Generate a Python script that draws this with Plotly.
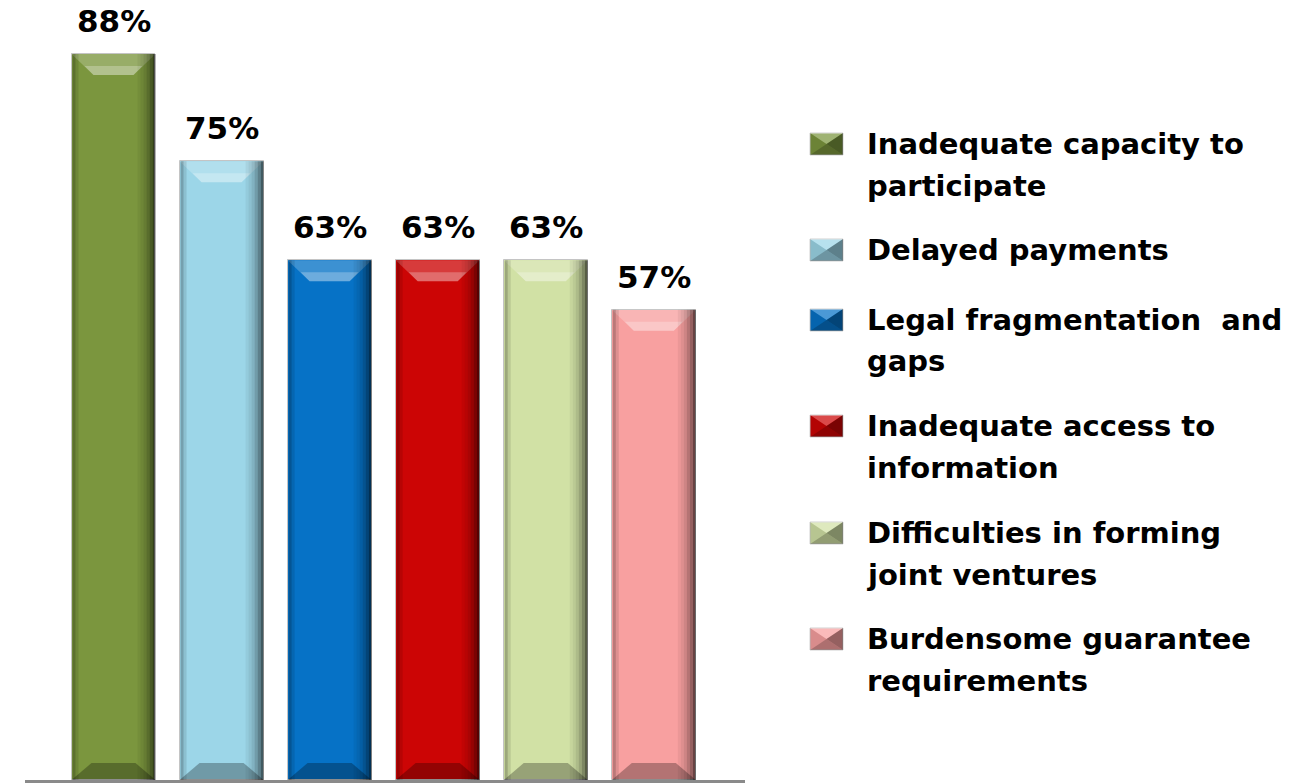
import plotly.graph_objects as go

# ---------------- data ----------------
categories = [
    "Inadequate capacity to participate",
    "Delayed payments",
    "Legal fragmentation and gaps",
    "Inadequate access to information",
    "Difficulties in forming joint ventures",
    "Burdensome guarantee requirements",
]
legend_lines = [
    ["Inadequate capacity to", "participate"],
    ["Delayed payments"],
    ["Legal fragmentation  and", "gaps"],
    ["Inadequate access to", "information"],
    ["Difficulties in forming", "joint ventures"],
    ["Burdensome guarantee", "requirements"],
]
values = [88, 75, 63, 63, 63, 57]
colors = ["#7b963e", "#9cd6e8", "#0672c6", "#cc0505", "#d1e1a5", "#f8a0a0"]

# ---------------- layout helpers ----------------
W, H = 1312, 784
FONT = "DejaVu Sans"
xs = list(range(len(categories)))


def px(x):
    return x / W


def py(y):
    return (H - y) / H


fig = go.Figure()
fig.add_trace(go.Bar(
    x=xs, y=values, width=0.777,
    marker=dict(color=colors, line=dict(color="#c4c4c4", width=1)),
    hovertext=categories, hoverinfo="text+y",
    showlegend=False,
))

shapes = []
annotations = []
HALF = 42  # bar half width in pixels (style)

for i, v in enumerate(values):
    base = dict(xref="x", yref="y", xsizemode="pixel", xanchor=i, layer="above")
    # top bevel
    shapes.append(dict(base, type="path", ysizemode="pixel", yanchor=v,
                       path=f"M{-HALF},0 L{HALF},0 L{HALF-22},-21 L{-HALF+22},-21 Z",
                       fillcolor="rgba(255,255,255,0.22)", line=dict(width=0)))
    shapes.append(dict(base, type="path", ysizemode="pixel", yanchor=v,
                       path=f"M{-HALF+13},-12 L{HALF-13},-12 L{HALF-22},-21 L{-HALF+22},-21 Z",
                       fillcolor="rgba(255,255,255,0.25)", line=dict(width=0)))
    # bottom bevel
    shapes.append(dict(base, type="path", ysizemode="pixel", yanchor=0,
                       path=f"M{-HALF},0 L{HALF},0 L{HALF-20},17 L{-HALF+20},17 Z",
                       fillcolor="rgba(0,0,0,0.28)", line=dict(width=0)))
    # right edge shading (full height)
    for k, op in enumerate([0.05, 0.1, 0.17, 0.27, 0.4, 0.58]):
        x0 = HALF - 18 + 3 * k
        shapes.append(dict(base, type="rect", x0=x0, x1=x0 + 3, y0=0, y1=v,
                           fillcolor=f"rgba(0,0,0,{op})", line=dict(width=0)))
    # left edge shading
    for k, op in enumerate([0.25, 0.1]):
        x0 = -HALF + 1 + 3 * k
        shapes.append(dict(base, type="rect", x0=x0, x1=x0 + 3, y0=0, y1=v,
                           fillcolor=f"rgba(0,0,0,{op})", line=dict(width=0)))
    # value label
    annotations.append(dict(
        x=i, y=v, xref="x", yref="y", text=f"{v}%", showarrow=False,
        yanchor="bottom", yshift=13,
        font=dict(family=FONT, size=31, color="#000000", weight="bold"),
    ))

# ---------------- custom legend ----------------
line_centers = [[144, 186], [250], [320, 361], [426, 468], [533, 575], [639, 681]]
for j, lines in enumerate(legend_lines):
    for t, yc in zip(lines, line_centers[j]):
        annotations.append(dict(
            x=px(865), y=py(yc), xref="paper", yref="paper", text=t,
            showarrow=False, xanchor="left", yanchor="middle",
            font=dict(family=FONT, size=29, color="#000000", weight="bold"),
        ))
    yc = line_centers[j][0]
    l, r, t_, b = 810, 843, yc - 11, yc + 11
    cx, cy = (l + r) / 2, (t_ + b) / 2
    pdict = dict(xref="paper", yref="paper", layer="above", line=dict(width=0))
    shapes.append(dict(pdict, type="rect", x0=px(l), x1=px(r), y0=py(b), y1=py(t_),
                       fillcolor=colors[j], line=dict(color="#d0d0d0", width=1)))
    tris = [
        ([(l, t_), (r, t_), (cx, cy)], "rgba(255,255,255,0.28)"),
        ([(l, b), (r, b), (cx, cy)], "rgba(0,0,0,0.3)"),
        ([(r, t_), (r, b), (cx, cy)], "rgba(0,0,0,0.4)"),
        ([(l, t_), (l, b), (cx, cy)], "rgba(0,0,0,0.12)"),
    ]
    for pts, fc in tris:
        path = "M" + " L".join(f"{px(a):.5f},{py(c):.5f}" for a, c in pts) + " Z"
        shapes.append(dict(pdict, type="path", path=path, fillcolor=fc))

fig.update_layout(
    width=W, height=H,
    margin=dict(l=0, r=0, t=0, b=0),
    paper_bgcolor="#ffffff", plot_bgcolor="#ffffff",
    xaxis=dict(domain=[25 / W, 745 / W], range=[-0.819, 5.844],
               showline=True, linecolor="#8a8a8a", linewidth=3,
               showgrid=False, zeroline=False, showticklabels=False, ticks=""),
    yaxis=dict(domain=[4 / H, 1], range=[0, 780 / 8.25],
               showline=False, showgrid=False, zeroline=False,
               showticklabels=False, ticks=""),
    shapes=shapes,
    annotations=annotations,
    showlegend=False,
    bargap=0,
)

fig.write_html("out.html")
